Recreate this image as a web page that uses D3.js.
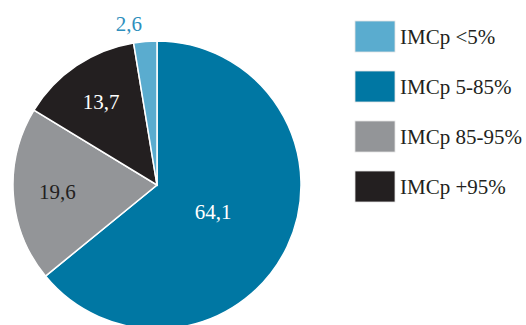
<!DOCTYPE html>
<html>
<head>
<meta charset="utf-8">
<script src="https://cdn.jsdelivr.net/npm/d3@7"></script>
<style>
  html, body { margin: 0; padding: 0; background: #fff; }
  svg { display: block; }
</style>
</head>
<body>
<svg id="chart" width="526" height="325"></svg>
<script>
const categories = ["IMCp 5-85%", "IMCp 85-95%", "IMCp +95%", "IMCp <5%"];
const values = [64.1, 19.6, 13.7, 2.6];
const colors = ["#0077a3", "#939598", "#231f20", "#5aaccf"];
const labelColors = ["#ffffff", "#231f20", "#ffffff", "#2e8fbd"];
const legendOrder = ["IMCp <5%", "IMCp 5-85%", "IMCp 85-95%", "IMCp +95%"];

const svg = d3.select("#chart");
const font = "'Liberation Serif', 'DejaVu Serif', serif";
const cx = 157, cy = 185, R = 144;

const data = categories.map((c, i) => ({name: c, value: values[i], color: colors[i], labelColor: labelColors[i]}));

const pie = d3.pie().sort(null).value(d => d.value);
const arcs = pie(data);
const arc = d3.arc().innerRadius(0).outerRadius(R);

const g = svg.append("g").attr("transform", `translate(${cx},${cy})`);

g.selectAll("path")
  .data(arcs)
  .enter().append("path")
  .attr("d", arc)
  .attr("fill", d => d.data.color)
  .attr("stroke", "#fff")
  .attr("stroke-width", 1.5);

// label radius depends on slice size; the tiny one sits outside
function labelPos(d) {
  let r;
  if (d.data.value > 50) r = 62;
  else if (d.data.value > 5) r = 100;
  else r = 162;
  const a = d3.arc().innerRadius(r).outerRadius(r);
  const p = a.centroid(d);
  if (d.data.value <= 5) p[0] -= 15;
  return p;
}

const fmt = v => String(v).replace(".", ",");

g.selectAll("text.lab")
  .data(arcs)
  .enter().append("text")
  .attr("class", "lab")
  .attr("x", d => labelPos(d)[0])
  .attr("y", d => labelPos(d)[1])
  .attr("dy", "0.35em")
  .attr("text-anchor", "middle")
  .attr("font-family", font)
  .attr("font-size", 21)
  .attr("fill", d => d.data.labelColor)
  .text(d => fmt(d.data.value));

const legend = svg.append("g").attr("transform", "translate(355,21)");
const item = legend.selectAll("g")
  .data(legendOrder)
  .enter().append("g")
  .attr("transform", (d, i) => `translate(0,${i * 50})`);

item.append("rect")
  .attr("width", 40)
  .attr("height", 31)
  .attr("fill", d => colors[categories.indexOf(d)])
  .attr("stroke", "#e4e4e4")
  .attr("stroke-width", 0.8);

item.append("text")
  .attr("x", 45)
  .attr("y", 16)
  .attr("dy", "0.35em")
  .attr("font-family", font)
  .attr("font-size", 21)
  .attr("fill", "#231f20")
  .text(d => d);
</script>
</body>
</html>
